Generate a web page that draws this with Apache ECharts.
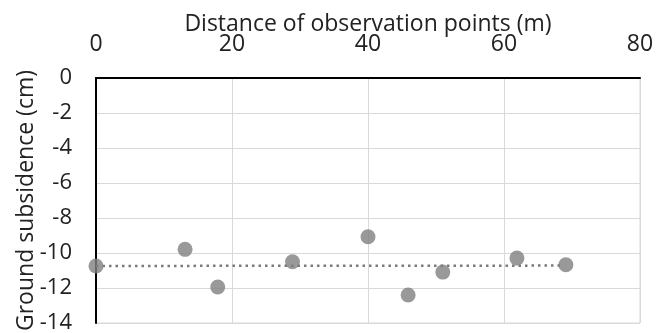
<!DOCTYPE html>
<html>
<head>
<meta charset="utf-8">
<script src="https://cdn.jsdelivr.net/npm/echarts@6/dist/echarts.min.js"></script>
<style>html,body{margin:0;padding:0;background:#fff}#c{width:669px;height:333px}</style>
</head>
<body>
<div id="c"></div>
<script>
const distance = [0, 13.1, 17.9, 28.9, 40.0, 45.9, 51.0, 61.9, 69.1];
const subsidence = [-10.74, -9.79, -11.94, -10.5, -9.07, -12.4, -11.09, -10.29, -10.67];
const trendX = [0, 68.5];
const trendY = [-10.74, -10.72];
const xTitle = 'Distance of observation points (m)';
const yTitle = 'Ground subsidence (cm)';

const font = '"Open Sans", "Noto Sans", sans-serif';
const chart = echarts.init(document.getElementById('c'), null, {renderer: 'canvas'});
chart.setOption({
  animation: false,
  backgroundColor: '#fff',
  grid: {left: 96, right: 29, top: 78, bottom: 10, outerBoundsMode: 'none', containLabel: false,
         show: true, borderColor: '#d9d9d9', borderWidth: 1},
  xAxis: {
    type: 'value', position: 'top', min: 0, max: 80, interval: 20,
    name: xTitle, nameLocation: 'middle', nameGap: 42, nameMoveOverlap: false,
    nameTextStyle: {fontFamily: font, fontSize: 23, color: '#222'},
    axisLine: {show: true, onZero: false, lineStyle: {color: '#000', width: 2}},
    axisTick: {show: false},
    axisLabel: {fontFamily: font, fontSize: 23, color: '#222', margin: 22},
    splitLine: {show: true, lineStyle: {color: '#d9d9d9', width: 1}}
  },
  yAxis: {
    type: 'value', min: -14, max: 0, interval: 2,
    name: yTitle, nameLocation: 'middle', nameGap: 58, nameMoveOverlap: false,
    nameTextStyle: {fontFamily: font, fontSize: 23, color: '#222'},
    axisLine: {show: true, onZero: false, lineStyle: {color: '#000', width: 2}},
    axisTick: {show: false},
    axisLabel: {fontFamily: font, fontSize: 22, color: '#222', margin: 24},
    splitLine: {show: true, lineStyle: {color: '#d9d9d9', width: 1}}
  },
  series: [
    {
      type: 'line',
      data: trendX.map((x, i) => [x, trendY[i]]),
      showSymbol: false, symbol: 'none',
      lineStyle: {color: '#7a7a7a', width: 2.5, type: [2.5, 4]},
      z: 2
    },
    {
      type: 'scatter',
      data: distance.map((x, i) => [x, subsidence[i]]),
      symbolSize: 15,
      itemStyle: {color: '#7f7f7f'},
      z: 3
    }
  ]
});
</script>
</body>
</html>
